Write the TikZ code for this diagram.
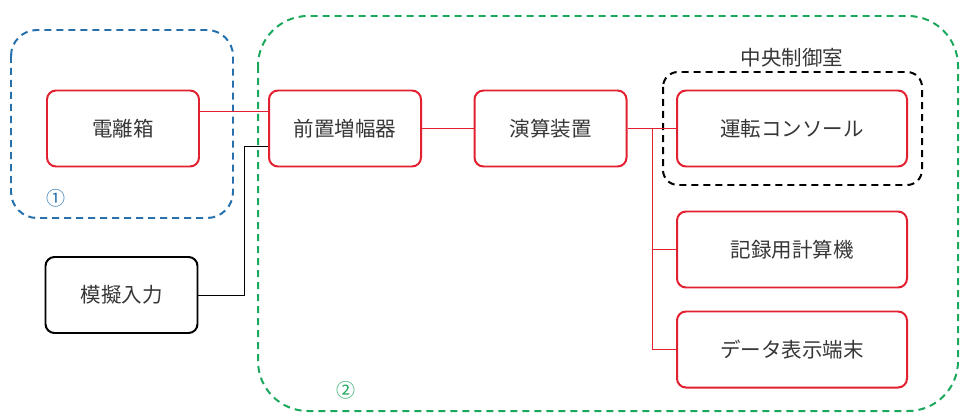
\documentclass[tikz,border=0pt]{standalone}
\usepackage{fontspec}
\setmainfont{Noto Sans CJK JP}
\usepackage{tikz}
\usepackage{xcolor}
\usetikzlibrary{arrows}
\usetikzlibrary{positioning}

\definecolor{boxred}{RGB}{226,32,48}
\definecolor{areablue}{RGB}{38,112,172}
\definecolor{areagreen}{RGB}{28,168,92}
\definecolor{textgray}{RGB}{55,55,55}

\begin{document}
\begin{tikzpicture}[x=1pt, y=-1pt,
		unit/.style={draw=boxred, line width={0.7mm}, rounded corners=9pt, fill=white,
			minimum width=152pt, minimum height=76pt, inner sep=0pt,
			font=\fontsize{20.5}{24}\selectfont, text=textgray},
		wideunit/.style={unit, minimum width=230pt},
		simunit/.style={unit, draw=black},
		wire/.style={-, draw=boxred, line width={0.35mm}},
		area/.style={-, line width={0.7mm}, dash pattern=on 7pt off 5pt}]
	\useasboundingbox (0,0) rectangle (968,417);
	
	\begin{scope}[draw]
		\draw[area, draw=areablue, rounded corners=26pt] ( 11.0, 30.0) rectangle ( 233.0, 218.0);
		\draw[area, draw=areagreen, rounded corners=50pt] ( 258.0, 16.0) rectangle ( 958.0, 411.0);
		\draw[area, draw=black, rounded corners=15pt] ( 663.0, 72.0) rectangle ( 922.0, 185.0);
	\end{scope}
	
	\node[unit] (ion) at ( 123.0, 128.5) {電離箱};
	\node[simunit] (sim) at ( 121.5, 295.0) {模擬入力};
	\node[unit] (preamp) at ( 345.0, 128.5) {前置増幅器};
	\node[unit] (calc) at ( 550.5, 128.5) {演算装置};
	\node[wideunit] (console) at ( 792.0, 128.5) {運転コンソール};
	\node[wideunit] (logger) at ( 792.0, 249.5) {記録用計算機};
	\node[wideunit] (display) at ( 792.0, 349.5) {データ表示端末};
	
	\node[text=textgray, font=\fontsize{20.5}{24}\selectfont] (ctrlroom) at ( 792.0, 58.0) {中央制御室};
	\node[text=areablue, font=\fontsize{19}{22}\selectfont] (areaone) at ( 56.0, 198.0) {①};
	\node[text=areagreen, font=\fontsize{19}{22}\selectfont] (areatwo) at ( 346.0, 390.0) {②};
	
	\coordinate (branch) at ( 652.0, 128.5);
	
	\begin{scope}[draw]
		\draw[wire] ([yshift=17.5pt]ion.east) to ([yshift=17.5pt]preamp.west);
		\draw[wire, draw=black] (sim.east) to ++( 46.0, 0.0) |- ([yshift=-17.5pt]preamp.west);
		\draw[wire] (preamp.east) to (calc.west);
		\draw[wire] (calc.east) to (console.west);
		\draw[wire] (branch) |- (logger.west);
		\draw[wire] (branch) |- (display.west);
	\end{scope}
	
\end{tikzpicture}
\end{document}
